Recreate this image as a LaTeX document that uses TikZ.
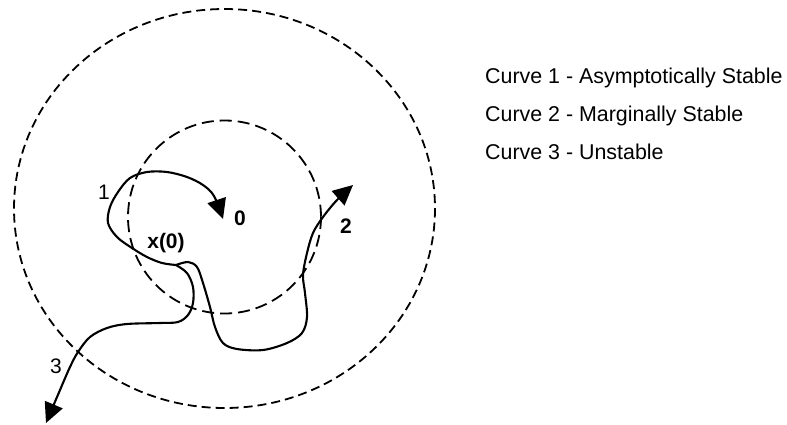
\documentclass[tikz,border=0pt]{standalone}
\usepackage{fontspec}
\setmainfont{Liberation Sans}
\usetikzlibrary{arrows.meta}
\begin{document}
\begin{tikzpicture}[x=1pt,y=-1pt,
  region/.style={draw=black, line width=1.8pt, dash pattern=on 9pt off 5pt},
  inregion/.style={draw=black, line width=1.8pt, dash pattern=on 12pt off 6pt},
  traj/.style={draw=black, line width=2.1pt, -{Triangle[length=20pt,width=19pt]}},
  lbl/.style={font=\fontsize{21}{24}\selectfont, inner sep=0pt},
  legend/.style={font=\fontsize{21.4}{25}\selectfont, inner sep=0pt, anchor=base west}]
\useasboundingbox (0,0) rectangle (787,424);
\fill[white] (0,0) rectangle (787,424);
% regions
\draw[region] (224.5,208.5) ellipse [x radius=210.5, y radius=199.5];
\draw[inregion] (224.5,217) circle [radius=96.5];
% start point
\coordinate (x0) at (176,265);
% curve 1
\draw[traj] plot[smooth, tension=0.55] coordinates {(x0) (162,263) (147,257) (132,248) (117,237) (108,223) (110,207) (118,192) (130,178) (147,172) (167,172) (187,177) (203,185) (214,196) (223,219)};
% curve 2
\draw[traj] plot[smooth, tension=0.55] coordinates {(x0) (188,262) (197,267) (203,283) (210,307) (215,327) (223,343) (237,349) (263,350) (287,343) (302,333) (307,317) (305,293) (303,275) (307,253) (313,233) (323,217) (337,200) (353,185)};
% curve 3
\draw[traj] plot[smooth, tension=0.55] coordinates {(x0) (187,273) (193,287) (193,303) (188,315) (178,322) (160,323) (127,324) (107,328) (90,337) (78,352) (70,367) (60,390) (46,423)};
% labels
\node[lbl] (l1) at (104,192) {1};
\node[lbl] (l0) at (240,218) {\bfseries 0};
\node[lbl] (lx) at (166,243) {\bfseries x(0)};
\node[lbl] (l2) at (346,226) {\bfseries 2};
\node[lbl] (l3) at (56,366) {3};
% legend
\node[legend] (c1) at (485,83) {Curve 1 - Asymptotically Stable};
\node[legend] (c2) at (485,121) {Curve 2 - Marginally Stable};
\node[legend] (c3) at (485,159) {Curve 3 - Unstable};
\end{tikzpicture}
\end{document}
